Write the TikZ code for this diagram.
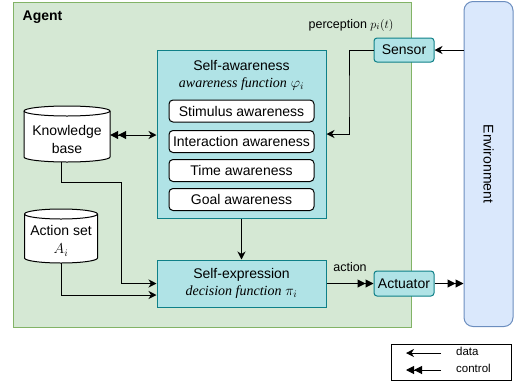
\documentclass[tikz,border=0pt]{standalone}
\usepackage{fontspec}
\setmainfont{Liberation Sans}
\newfontfamily\tms{Liberation Serif}
\usetikzlibrary{arrows.meta}
\definecolor{agfill}{HTML}{D5E8D4}
\definecolor{agline}{HTML}{82B366}
\definecolor{cyfill}{HTML}{B0E3E6}
\definecolor{cyline}{HTML}{0E8088}
\definecolor{envfill}{HTML}{DAE8FC}
\definecolor{envline}{HTML}{6C8EBF}
\tikzset{
  every node/.style={font=\fontsize{14}{16}\selectfont, inner sep=0pt},
  agentbox/.style={draw=agline, fill=agfill, line width=1pt},
  cybox/.style={draw=cyline, fill=cyfill, line width=1pt},
  cysmall/.style={draw=cyline, fill=cyfill, line width=1pt, rounded corners=3pt},
  envbox/.style={draw=envline, fill=envfill, line width=1pt, rounded corners=9pt},
  inbox/.style={draw=black, fill=white, line width=1pt, rounded corners=4pt, minimum width=145pt, minimum height=22pt},
  cyl/.style={draw=black, fill=white, line width=1pt},
  datatip/.style={-{Stealth[length=8pt,width=8pt,inset=2.5pt]}},
  data/.style={draw=black, line width=1pt, datatip},
  ctrl/.style={draw=black, line width=1pt, -{Triangle[length=8pt,width=8pt]Triangle[length=8pt,width=8pt]}},
  lbl/.style={font=\fontsize{12.5}{14}\selectfont},
  leg/.style={font=\fontsize{11.5}{13}\selectfont},
}
\begin{document}
\begin{tikzpicture}[x=1pt,y=-1pt]
\useasboundingbox (0,0) rectangle (514,381);
% agent
\node[agentbox, anchor=north west, minimum width=398pt, minimum height=325pt] (agent) at (12.5,1.5) {};
\node[anchor=west, font=\bfseries\fontsize{14}{16}\selectfont] (agentlbl) at (22.5,17.5) {Agent};
% environment
\node[envbox, minimum width=49pt, minimum height=325pt] (env) at (488.5,164) {};
\node[rotate=-90] (envlbl) at (488.5,164) {Environment};
% self-awareness
\node[cybox, minimum width=169pt, minimum height=168pt] (sa) at (241.5,134) {};
\node[align=center] (satitle) at (241.5,75) {Self-awareness\\[1pt]{\tms\itshape awareness function} $\varphi_i$};
\node[inbox] (stim) at (241.5,111) {Stimulus awareness};
\node[inbox] (inter) at (241.5,141.5) {Interaction awareness};
\node[inbox] (time) at (241.5,170.5) {Time awareness};
\node[inbox] (goal) at (241.5,199.5) {Goal awareness};
% self-expression
\node[cybox, minimum width=169pt, minimum height=47pt, align=center] (se) at (241.5,283.5) {Self-expression\\[1pt]{\tms\itshape decision function} $\pi_i$};
% sensor / actuator
\node[cysmall, minimum width=60pt, minimum height=24pt] (sensor) at (404,50) {Sensor};
\node[cysmall, minimum width=60pt, minimum height=25pt] (actuator) at (404,283.5) {Actuator};
% knowledge base cylinder
\path[cyl] (24,111) -- (24,157) arc[start angle=180, end angle=0, x radius=43, y radius=5] -- (110,111) arc[start angle=0, end angle=-180, x radius=43, y radius=5] -- cycle;
\draw[line width=1pt] (24,111) arc[start angle=180, end angle=0, x radius=43, y radius=5];
\node[minimum width=86pt, minimum height=46pt, align=center] (kb) at (67,139) {Knowledge\\[2pt]base};
% action set cylinder
\path[cyl] (24.5,214) -- (24.5,258) arc[start angle=180, end angle=0, x radius=36.5, y radius=5] -- (97.5,214) arc[start angle=0, end angle=-180, x radius=36.5, y radius=5] -- cycle;
\draw[line width=1pt] (24.5,214) arc[start angle=180, end angle=0, x radius=36.5, y radius=5];
\node[minimum width=73pt, minimum height=44pt, align=center] (act) at (61,241) {Action set\\[2pt]$A_i$};
% labels
\node[lbl] (perc) at (351,25) {perception $p_i(t)$};
\node[lbl] (actlbl) at (350,267) {action};
% connectors
\coordinate (kbturn) at (121,182);
\coordinate (snturn) at (349,100);
\draw[line width=1pt, {Triangle[length=8pt,width=8pt]Triangle[length=8pt,width=8pt]}-{Stealth[length=8pt,width=8pt,inset=2.5pt]}] (kb.east |- 0,135) -- (sa.west |- 0,135);
\draw[data] ([xshift=-6pt]kb.south) |- (kbturn) |- (se.west);
\draw[data] (act.south) |- ([yshift=-11.5pt]se.west);
\draw[data] (sensor.west) -| (snturn) |- (sa.east);
\draw[data] (env.west |- sensor.east) -- (sensor.east);
\draw[data] (sa.south) -- (se.north);
\draw[ctrl] (se.east) -- (actuator.west);
\draw[ctrl] (actuator.east) -- (env.west |- actuator.east);
% legend
\node[draw=black, line width=1pt, minimum width=120pt, minimum height=36pt] (legend) at (451,362) {};
\coordinate (l1a) at (441,353);
\coordinate (l1b) at (406,353);
\coordinate (l2a) at (441,370);
\coordinate (l2b) at (406,370);
\draw[data] (l1a) -- (l1b);
\draw[ctrl] (l2a) -- (l2b);
\node[leg, anchor=west] (ldata) at (456,351) {data};
\node[leg, anchor=west] (lctrl) at (456,368) {control};
\end{tikzpicture}
\end{document}
